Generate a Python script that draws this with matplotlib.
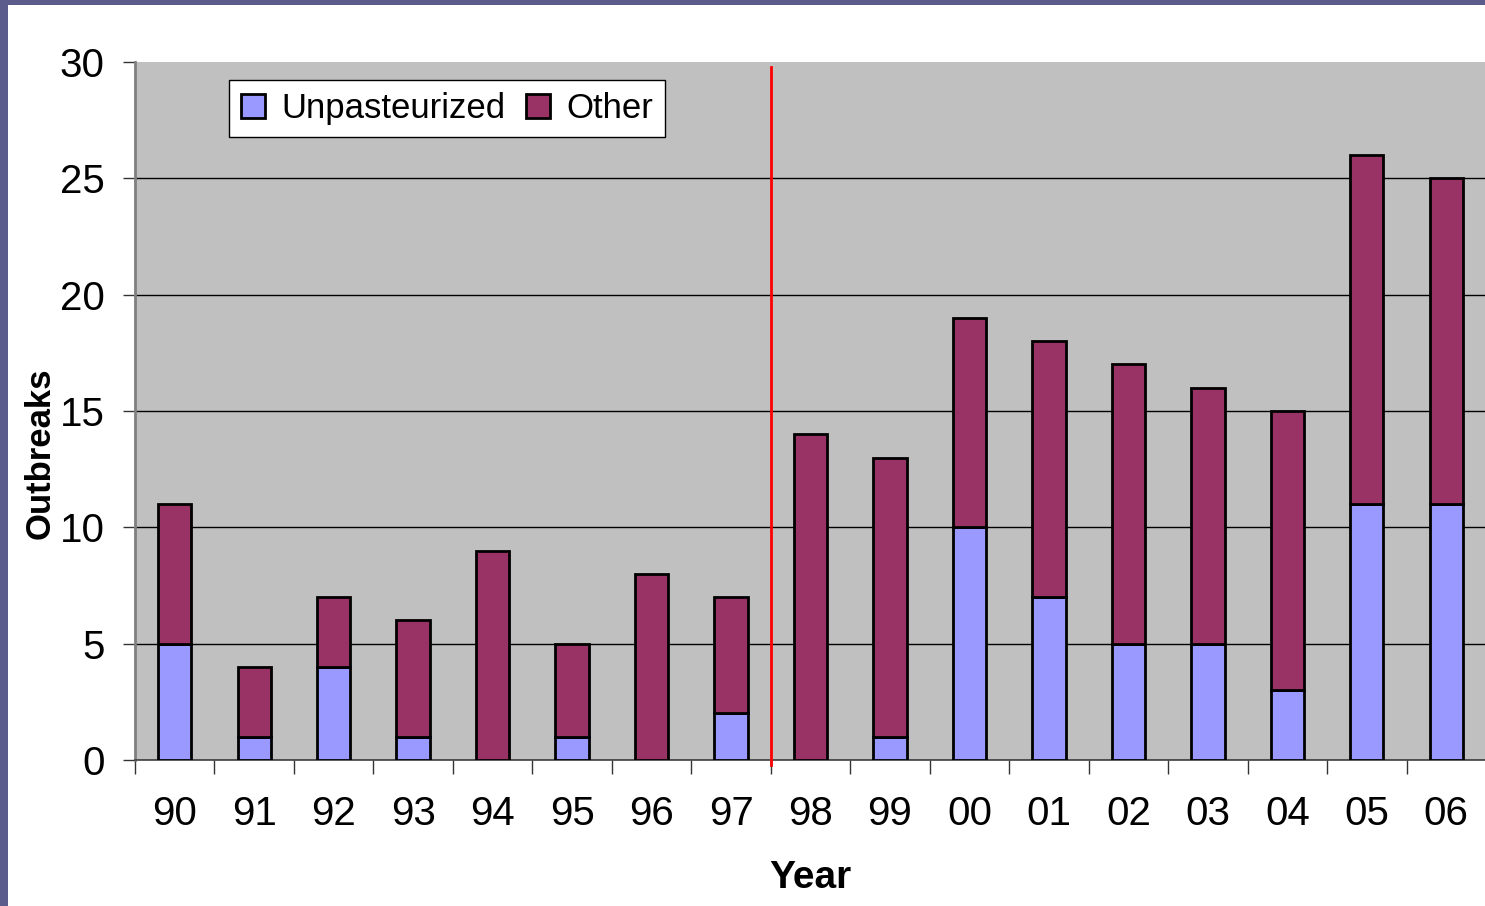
import matplotlib.pyplot as plt
import matplotlib.patches as mpatches
import numpy as np

plt.rcParams['font.family'] = ['Liberation Sans', 'DejaVu Sans']

years = ['90', '91', '92', '93', '94', '95', '96', '97', '98',
         '99', '00', '01', '02', '03', '04', '05', '06']
unpasteurized = [5, 1, 4, 1, 0, 1, 0, 2, 0, 1, 10, 7, 5, 5, 3, 11, 11]
other = [6, 3, 3, 5, 9, 4, 8, 5, 14, 12, 9, 11, 12, 11, 12, 15, 14]

fig = plt.figure(figsize=(14.85, 9.06), dpi=100)
fig.patch.set_facecolor('#5c5c8c')
# white slide panel
fig.patches.append(mpatches.Rectangle((8 / 1485, 0), 1, 1 - 5 / 906,
                                      transform=fig.transFigure,
                                      facecolor='white', edgecolor='none', zorder=-1))

ax = fig.add_axes([135 / 1485, 146 / 906, 1351 / 1485, 698 / 906])
ax.set_facecolor('#c0c0c0')

x = np.arange(len(years))
w = 0.42
ax.bar(x, unpasteurized, w, color='#9999ff', edgecolor='black', linewidth=2,
       label='Unpasteurized', zorder=3)
ax.bar(x, other, w, bottom=unpasteurized, color='#993366', edgecolor='black',
       linewidth=2, label='Other', zorder=3)

# divider between 97 and 98
ax.plot([7.5, 7.5], [-0.2, 29.8], color='red', lw=2, clip_on=False, zorder=4)

ax.set_xlim(-0.5, len(years) - 0.5)
ax.set_ylim(0, 30)
ax.set_yticks(range(0, 31, 5))
ax.yaxis.grid(True, color='black', lw=1)
ax.set_axisbelow(True)
# no gridline along the top edge of the plot area
ax.get_ygridlines()[-1].set_visible(False)

ax.set_xticks(np.arange(-0.5, len(years), 1))
ax.set_xticklabels([])
ax.set_xticks(x, minor=True)
ax.set_xticklabels(years, minor=True)
ax.tick_params(axis='x', which='major', length=10, width=1, color='#333333', direction='out')
ax.tick_params(axis='x', which='minor', length=0, pad=25, labelsize=29)
ax.tick_params(axis='y', length=9, width=1, color='#333333', pad=13, labelsize=29)

for s in ['top', 'right']:
    ax.spines[s].set_visible(False)
ax.spines['left'].set_color('#808080')
ax.spines['left'].set_linewidth(2)
ax.spines['bottom'].set_color('#404040')
ax.spines['bottom'].set_linewidth(1.2)

ax.set_xlabel('Year', fontsize=28, fontweight='bold', labelpad=20)
ax.set_ylabel('Outbreaks', fontsize=25, fontweight='bold')
ax.yaxis.set_label_coords(-0.058, 0.44)

leg = ax.legend(loc='upper left', bbox_to_anchor=(0.0696, 0.974), ncol=2,
                fontsize=25, frameon=True, fancybox=False, edgecolor='black',
                framealpha=1, handlelength=0.7, handleheight=0.7,
                handletextpad=0.45, columnspacing=0.6, borderpad=0.35,
                borderaxespad=0)
leg.get_frame().set_linewidth(1)

fig.savefig('out.png', dpi=100, facecolor=fig.get_facecolor())
